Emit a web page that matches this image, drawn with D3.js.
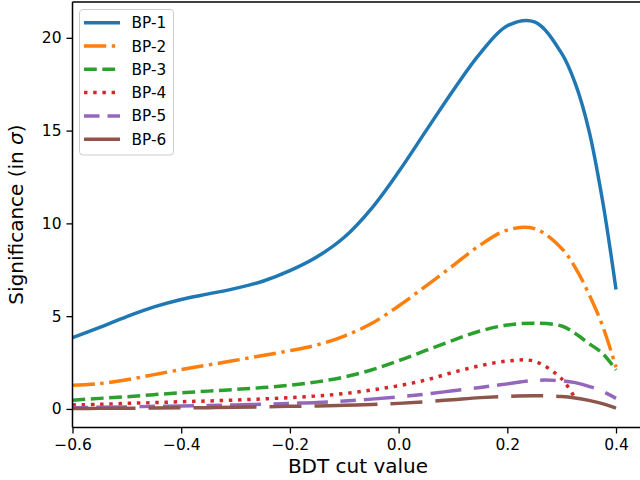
<!DOCTYPE html>
<html>
<head>
<meta charset="utf-8">
<script src="https://cdn.jsdelivr.net/npm/d3@7"></script>
<style>
  html, body { margin: 0; padding: 0; background: #fff; }
  svg { display: block; font-family: "DejaVu Sans", sans-serif; }
</style>
</head>
<body>
<svg id="chart" width="640" height="480"></svg>
<script>
// ---- data ----
const cutValues = [-0.6,-0.55,-0.5,-0.45,-0.4,-0.35,-0.3,-0.25,-0.2,-0.15,-0.1,-0.05,0,0.05,0.1,0.15,0.2,0.25,0.3,0.325,0.35,0.375,0.4];
const bp1 = [3.84,4.4,4.98,5.5,5.9,6.2,6.5,6.88,7.45,8.2,9.25,10.8,12.78,14.97,17.15,19.16,20.65,20.86,19.16,17.54,15.03,11.26,6.44];
const bp2 = [1.28,1.37,1.57,1.85,2.12,2.37,2.62,2.88,3.14,3.45,3.93,4.6,5.55,6.62,7.72,8.83,9.64,9.72,8.65,7.62,6.2,4.5,2.25];
const bp3 = [0.47,0.57,0.66,0.77,0.87,0.96,1.05,1.15,1.28,1.46,1.72,2.1,2.6,3.15,3.7,4.2,4.52,4.62,4.47,4.07,3.53,3.0,2.1];
const bp4 = [0.22,0.25,0.3,0.34,0.39,0.43,0.48,0.54,0.61,0.7,0.83,1.02,1.25,1.56,1.97,2.33,2.58,2.57,1.62,0.55,null,null,null];
const bp5 = [0.07,0.09,0.11,0.14,0.16,0.18,0.22,0.25,0.3,0.35,0.43,0.53,0.65,0.8,0.98,1.16,1.35,1.54,1.52,1.42,1.22,0.95,0.57];
const bp6 = [0.02,0.03,0.04,0.05,0.06,0.07,0.09,0.11,0.14,0.16,0.2,0.24,0.3,0.39,0.5,0.61,0.68,0.71,0.67,0.59,0.46,0.29,0.05];
const seriesNames = ["BP-1","BP-2","BP-3","BP-4","BP-5","BP-6"];
const xTicks = [-0.6,-0.4,-0.2,0.0,0.2,0.4];
const yTicks = [0,5,10,15,20];

// ---- styles ----
const colors = ["#1f77b4","#ff7f0e","#2ca02c","#d62728","#9467bd","#8c564b"];
const dashes = [null, "22.2,5.55,3.47,5.55", "12.8,5.55", "3.47,5.73", "15.5,8,31,12.5", "63,13,32,13"];
const lw = 3.47;

const allSeries = [bp1,bp2,bp3,bp4,bp5,bp6];

const svg = d3.select("#chart");
const x = d3.scaleLinear().domain([-0.6, 0.45]).range([72.5, 643.2]);
const y = d3.scaleLinear().domain([-1.0, 21.93]).range([427.5, 2]);

svg.append("defs").append("clipPath").attr("id","clip")
  .append("rect").attr("x",72.5).attr("y",2).attr("width",571).attr("height",425.5);

const line = d3.line()
  .defined(d => d.v !== null)
  .x(d => x(d.x)).y(d => y(d.v))
  .curve(d3.curveCatmullRom.alpha(0.5));

const plot = svg.append("g").attr("clip-path","url(#clip)");
allSeries.forEach((s, i) => {
  const data = cutValues.map((cv, j) => ({x: cv, v: s[j]}));
  plot.append("path")
    .attr("d", line(data))
    .attr("fill","none")
    .attr("stroke", colors[i])
    .attr("stroke-width", lw)
    .attr("stroke-dasharray", dashes[i])
    .attr("stroke-linecap","butt")
    .attr("stroke-linejoin","round");
});

// axes
const fmtX = v => d3.format(".1f")(v).replace("-", "\u2212");
const xAxis = d3.axisBottom(x).tickValues(xTicks).tickFormat(fmtX).tickSize(6).tickPadding(5);
const yAxis = d3.axisLeft(y).tickValues(yTicks).tickFormat(d3.format("d")).tickSize(6).tickPadding(5);

const gx = svg.append("g").attr("transform","translate(0,427.5)").call(xAxis);
const gy = svg.append("g").attr("transform","translate(72.5,0)").call(yAxis);
[gx, gy].forEach(g => {
  g.select(".domain").remove();
  g.selectAll(".tick line").attr("stroke","#000").attr("stroke-width",1.3);
  g.selectAll(".tick text").attr("fill","#000").style("font-size","15.5px").style("font-family","DejaVu Sans");
});

// spines (left, bottom, top; right one lies beyond the canvas)
svg.append("line").attr("x1",72.5).attr("x2",72.5).attr("y1",2).attr("y2",427.5).attr("stroke","#000").attr("stroke-width",1.5);
svg.append("line").attr("x1",72.5).attr("x2",643.2).attr("y1",427.5).attr("y2",427.5).attr("stroke","#000").attr("stroke-width",1.5);
svg.append("line").attr("x1",72.5).attr("x2",643.2).attr("y1",2).attr("y2",2).attr("stroke","#000").attr("stroke-width",1.5);

// labels
svg.append("text").attr("x", 358).attr("y", 473).attr("text-anchor","middle")
  .style("font-size","20px").text("BDT cut value");
const yl = svg.append("text").attr("transform","translate(23,214.5) rotate(-90)").attr("text-anchor","middle")
  .style("font-size","20px");
yl.append("tspan").text("Significance (in ");
yl.append("tspan").style("font-style","italic").text("σ");
yl.append("tspan").text(")");

// legend
const lg = svg.append("g");
lg.append("rect").attr("x",79.5).attr("y",9.5).attr("width",94).attr("height",145.5).attr("rx",3.5)
  .attr("fill","#fff").attr("fill-opacity",0.8).attr("stroke","#cccccc").attr("stroke-width",1);
seriesNames.forEach((name, i) => {
  const cy = 22.7 + i * 23.3;
  lg.append("line").attr("x1",84).attr("x2",120).attr("y1",cy).attr("y2",cy)
    .attr("stroke",colors[i]).attr("stroke-width",lw).attr("stroke-dasharray",dashes[i]);
  lg.append("text").attr("x",131.5).attr("y",cy).attr("dy","0.36em")
    .style("font-size","15.3px").text(name);
});
</script>
</body>
</html>
